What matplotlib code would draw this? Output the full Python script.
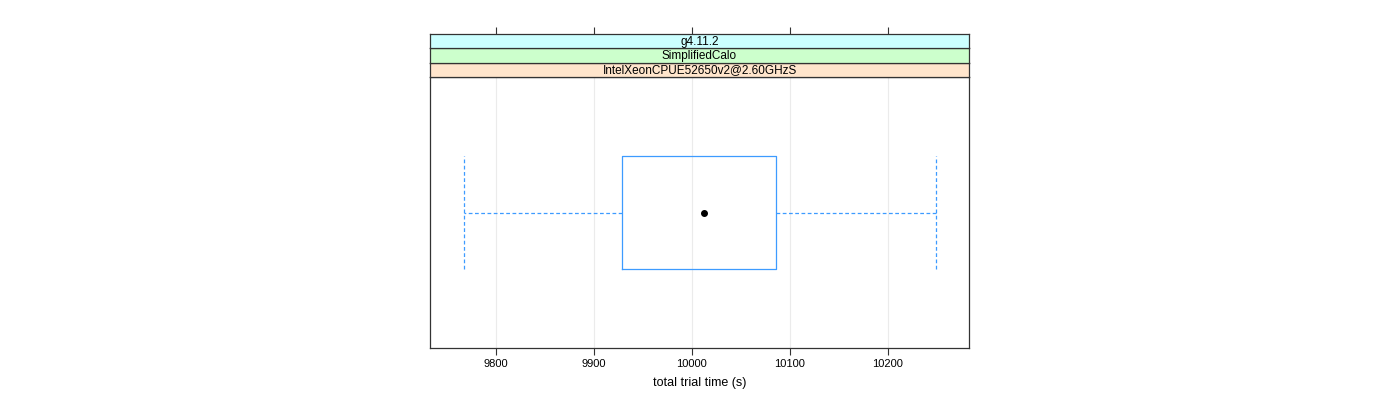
import matplotlib
matplotlib.use("Agg")
import matplotlib.pyplot as plt

plt.rcParams["font.family"] = ["Liberation Sans", "DejaVu Sans"]

# five-number summary
whisker_low = 9767.0
q1 = 9928.5
median = 10012.0
q3 = 10086.0
whisker_high = 10249.0

strip_labels = ["IntelXeonCPUE52650v2@2.60GHzS", "SimplifiedCalo", "g4.11.2"]
strip_colors = ["#ffe5cc", "#ccffcc", "#ccffff"]
xticks = [9800, 9900, 10000, 10100, 10200]
xlim = (9732.7, 10282.7)

W, H = 1400, 400
fig = plt.figure(figsize=(W / 100, H / 100), dpi=100)

left, right = 430, 969
panel_top, panel_bottom = 77, 348
strip_top = 34
box_col = "#3d9bff"

ax = fig.add_axes([left / W, 1 - panel_bottom / H, (right - left) / W,
                   (panel_bottom - panel_top) / H])

stats = [dict(whislo=whisker_low, q1=q1, med=median, q3=q3, whishi=whisker_high, fliers=[])]
ax.bxp(stats, positions=[1], widths=0.5, capwidths=0.5, orientation="horizontal",
       boxprops=dict(color=box_col, lw=0.9),
       whiskerprops=dict(color=box_col, lw=0.9, linestyle=(0, (3, 2))),
       capprops=dict(color=box_col, lw=0.9, linestyle=(0, (3, 2))),
       medianprops=dict(linestyle="none"), showfliers=False)
ax.plot([median], [1], "o", color="black", ms=4)

ax.set_xlim(*xlim)
ax.set_ylim(0.4, 1.6)
ax.set_yticks([])
ax.set_xticks(xticks)
ax.set_xticklabels([str(t) for t in xticks], fontsize=8)
ax.tick_params(axis="x", direction="out", length=5, width=0.8, color="#333333", pad=3)
for t in xticks:
    ax.axvline(t, color="#ebebeb", lw=0.8, zorder=0)
for s in ax.spines.values():
    s.set_color("#333333")
    s.set_linewidth(0.9)
ax.set_xlabel("total trial time (s)", fontsize=9, labelpad=6)

# strips stacked above the panel
strip_h = (panel_top - strip_top) / 3
for i, (lab, col) in enumerate(zip(strip_labels, strip_colors)):
    y_top = panel_top - (i + 1) * strip_h
    sax = fig.add_axes([left / W, 1 - (y_top + strip_h) / H, (right - left) / W, strip_h / H])
    sax.set_facecolor(col)
    sax.set_xlim(*xlim)
    sax.set_yticks([])
    sax.text(0.5, 0.45, lab, transform=sax.transAxes, ha="center", va="center", fontsize=8.5)
    for s in sax.spines.values():
        s.set_color("#333333")
        s.set_linewidth(0.9)
    if i == 2:
        sax.xaxis.tick_top()
        sax.set_xticks(xticks)
        sax.set_xticklabels([])
        sax.tick_params(axis="x", direction="out", length=5, width=0.8, color="#333333")
    else:
        sax.set_xticks([])

fig.savefig("out.png", dpi=100)
